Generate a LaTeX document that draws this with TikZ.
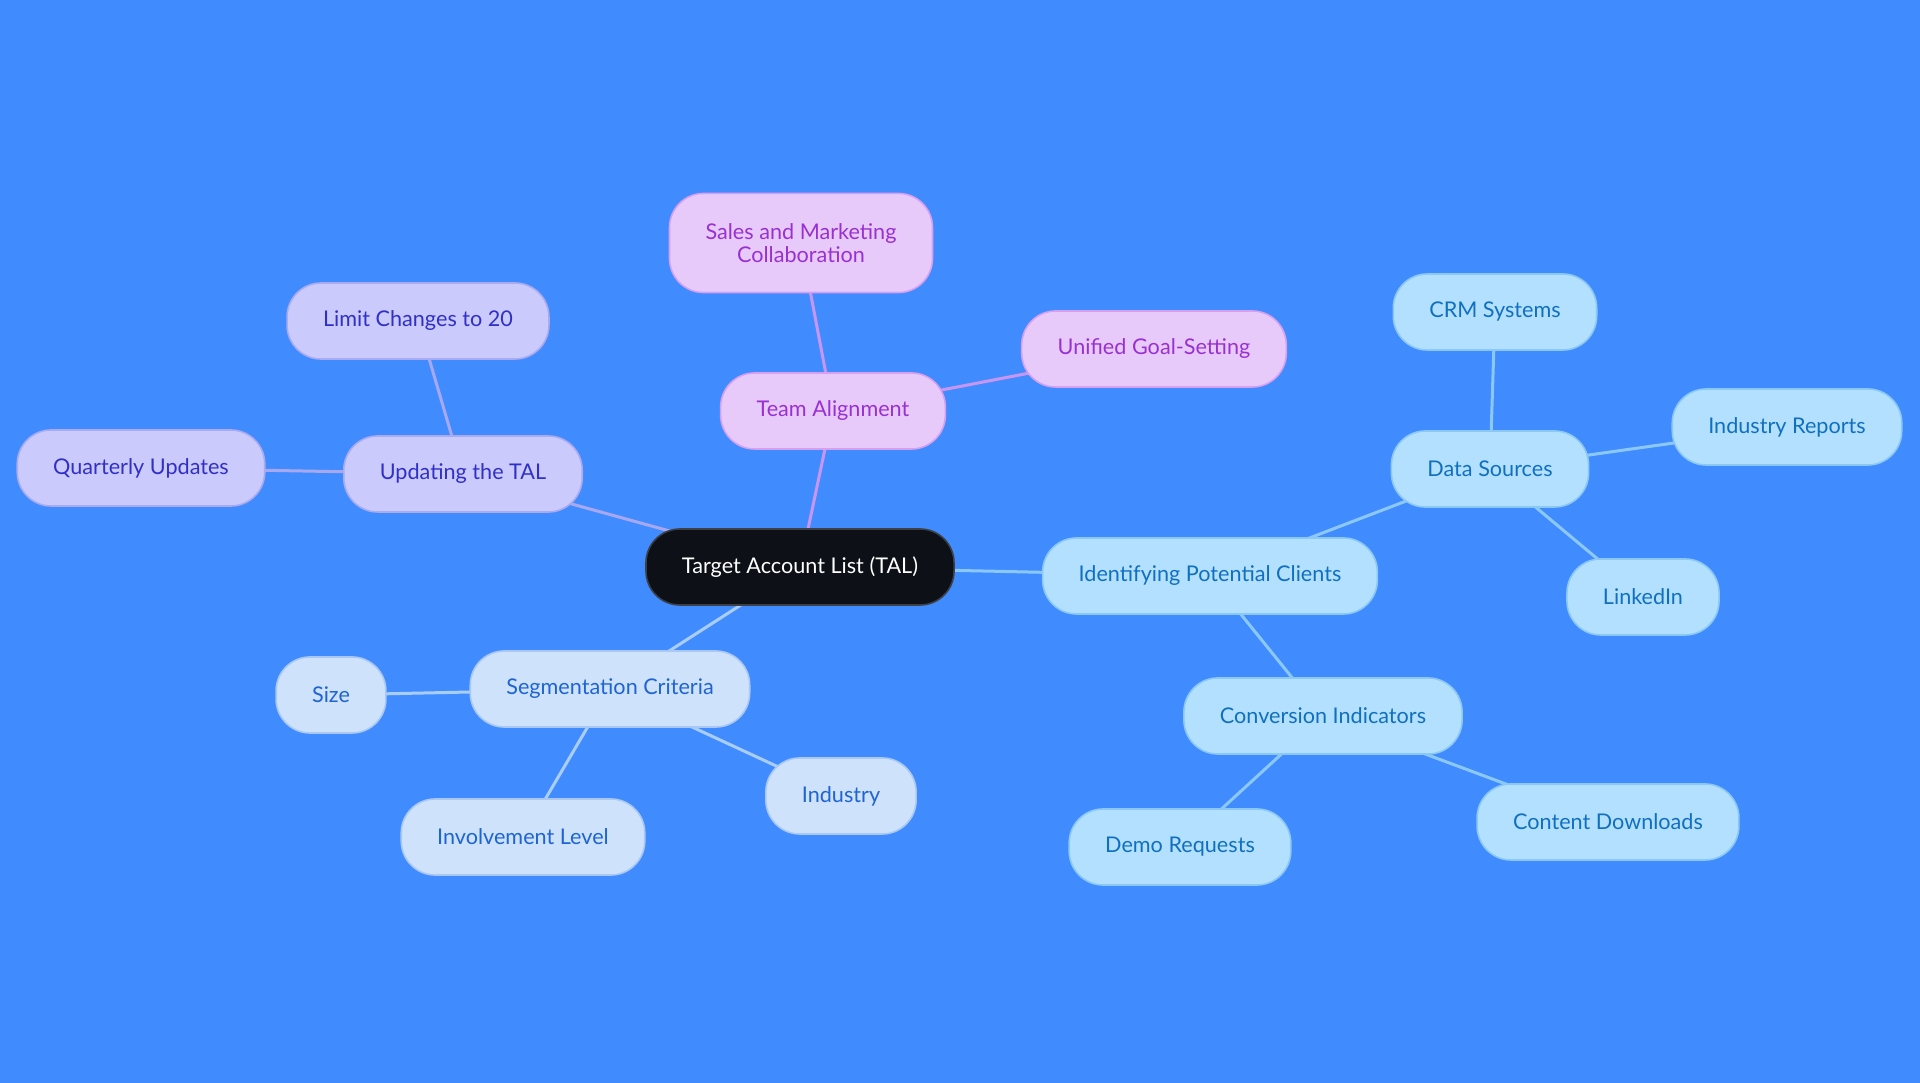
\documentclass[tikz,border=0pt]{standalone}
\usepackage{fontspec}
\setmainfont{Lato}
\usepackage{xcolor}

\pgfdeclarelayer{bg}
\pgfdeclarelayer{edges}
\pgfsetlayers{bg,edges,main}

\definecolor{bgblue}{RGB}{64,140,255}
\definecolor{rootfill}{RGB}{13,17,23}
\definecolor{rootdraw}{RGB}{60,64,70}
\definecolor{pinkfill}{RGB}{232,202,250}
\definecolor{pinkdraw}{RGB}{214,160,240}
\definecolor{pinktext}{RGB}{153,48,210}
\definecolor{pinkline}{RGB}{200,150,240}
\definecolor{lavfill}{RGB}{202,202,252}
\definecolor{lavdraw}{RGB}{170,170,240}
\definecolor{lavtext}{RGB}{48,48,200}
\definecolor{lavline}{RGB}{168,168,240}
\definecolor{skyfill}{RGB}{180,224,255}
\definecolor{skydraw}{RGB}{140,200,245}
\definecolor{skytext}{RGB}{16,112,192}
\definecolor{skyline}{RGB}{140,200,245}
\definecolor{segfill}{RGB}{206,226,252}
\definecolor{segdraw}{RGB}{170,200,245}
\definecolor{segtext}{RGB}{30,100,210}
\definecolor{segline}{RGB}{170,205,245}

\begin{document}
\begin{tikzpicture}[x=0.01cm,y=-0.01cm,
		mmbox/.style={
			rounded corners=0.34cm,
			minimum height=0.76cm,
			inner xsep=0.36cm,
			line width=0.45pt,
			align=center,
			font=\fontsize{6.15}{6.6}\selectfont,
		},
		rootbox/.style={mmbox, fill=rootfill, draw=rootdraw, text=white},
		pinkbox/.style={mmbox, fill=pinkfill, draw=pinkdraw, text=pinktext},
		lavbox/.style={mmbox, fill=lavfill, draw=lavdraw, text=lavtext},
		skybox/.style={mmbox, fill=skyfill, draw=skydraw, text=skytext},
		segbox/.style={mmbox, fill=segfill, draw=segdraw, text=segtext},
		link/.style={line width=0.03cm},
	]
		\def\W{1920}; \def\H{1083};
		
		% root
		\node[rootbox] (tal) at (800,567) {Target Account List (TAL)};
		
		% team alignment
		\node[pinkbox] (team) at (833,411) {Team Alignment};
		\node[pinkbox, minimum height=0.99cm] (sales) at (801,243) {Sales and Marketing\\Collaboration};
		\node[pinkbox] (goal) at (1154,349) {Unified Goal-Setting};
		
		% updating
		\node[lavbox] (upd) at (463,474) {Updating the TAL};
		\node[lavbox] (limit) at (418,321) {Limit Changes to 20};
		\node[lavbox] (quart) at (141,468) {Quarterly Updates};
		
		% segmentation
		\node[segbox] (seg) at (610,689) {Segmentation Criteria};
		\node[segbox] (size) at (331,695) {Size};
		\node[segbox] (invol) at (523,837) {Involvement Level};
		\node[segbox] (indus) at (841,796) {Industry};
		
		% potential clients
		\node[skybox] (ident) at (1210,576) {Identifying Potential Clients};
		\node[skybox] (data) at (1490,469) {Data Sources};
		\node[skybox] (crm) at (1495,312) {CRM Systems};
		\node[skybox] (rep) at (1787,427) {Industry Reports};
		\node[skybox] (lnk) at (1643,597) {LinkedIn};
		\node[skybox] (conv) at (1323,716) {Conversion Indicators};
		\node[skybox] (demo) at (1180,847) {Demo Requests};
		\node[skybox] (down) at (1608,822) {Content Downloads};
		
		\begin{pgfonlayer}{edges}
			\draw[link, pinkline] (tal.center) -- (team.center);
			\draw[link, pinkline] (team.center) -- (sales.center);
			\draw[link, pinkline] (team.center) -- (goal.center);
			\draw[link, lavline] (tal.center) -- (upd.center);
			\draw[link, lavline] (upd.center) -- (limit.center);
			\draw[link, lavline] (upd.center) -- (quart.center);
			\draw[link, segline] (tal.center) -- (seg.center);
			\draw[link, segline] (seg.center) -- (size.center);
			\draw[link, segline] (seg.center) -- (invol.center);
			\draw[link, segline] (seg.center) -- (indus.center);
			\draw[link, skyline] (tal.center) -- (ident.center);
			\draw[link, skyline] (ident.center) -- (data.center);
			\draw[link, skyline] (data.center) -- (crm.center);
			\draw[link, skyline] (data.center) -- (rep.center);
			\draw[link, skyline] (data.center) -- (lnk.center);
			\draw[link, skyline] (ident.center) -- (conv.center);
			\draw[link, skyline] (conv.center) -- (demo.center);
			\draw[link, skyline] (conv.center) -- (down.center);
		\end{pgfonlayer}
		
		\begin{pgfonlayer}{bg}
			\fill[bgblue] (0,0) rectangle (\W,\H);
		\end{pgfonlayer}
\end{tikzpicture}
\end{document}
